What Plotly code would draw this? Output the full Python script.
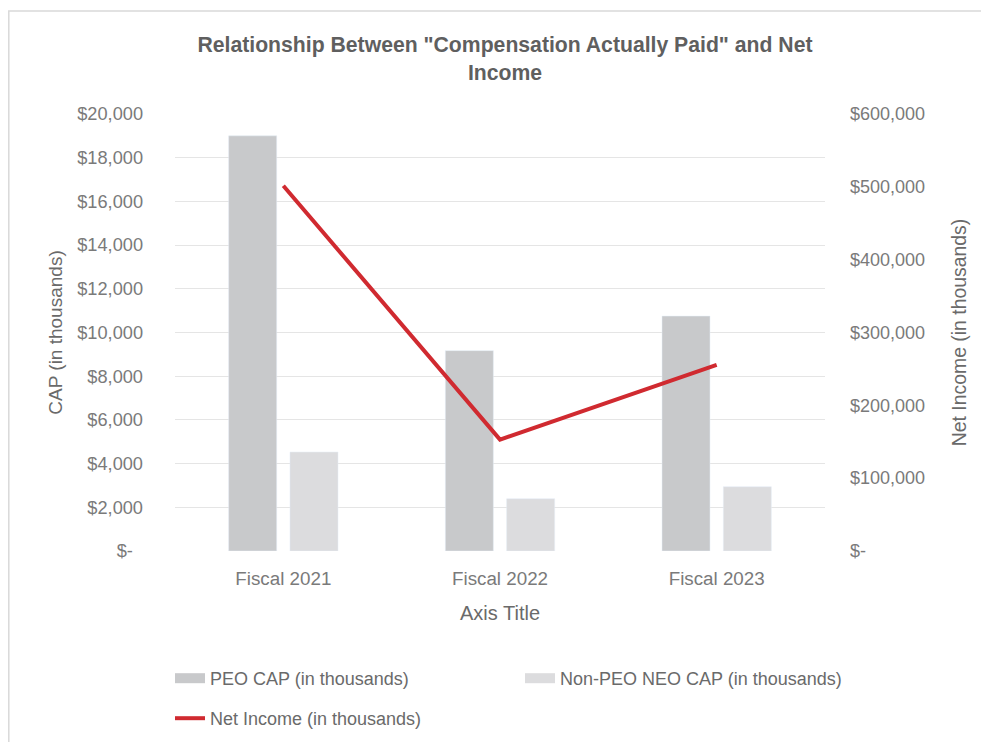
import plotly.graph_objects as go

categories = ["Fiscal 2021", "Fiscal 2022", "Fiscal 2023"]
peo_cap = [19000, 9170, 10750]
non_peo_cap = [4530, 2390, 2940]
net_income = [501500, 153000, 255500]

left_tickvals = list(range(0, 20001, 2000))
left_ticktext = ["$-\u00a0\u00a0"] + [f"${v:,}" for v in left_tickvals[1:]]
right_tickvals = list(range(0, 600001, 100000))
right_ticktext = ["$-"] + [f"${v:,}" for v in right_tickvals[1:]]

FONT = "Liberation Sans, Arial, Helvetica, sans-serif"
PEO_COLOR = "#c8c9cb"
NONPEO_COLOR = "#dcdcde"
LINE_COLOR = "#d02a30"
TICK_COLOR = "#7a7a7a"
TITLE_COLOR = "#6a6a6a"

# the page body has an 8px margin; the figure is sized so it fills the window exactly
OFF = 8
W, H = 989 - OFF, 742 - OFF
PL, PR, PT, PB = 175, 825, 114, 551  # plot area in window pixels


def px_x(x):
    return (x - PL) / (PR - PL)


def px_y(y):
    return (PB - y) / (PB - PT)


fig = go.Figure()
fig.add_trace(go.Bar(x=categories, y=peo_cap, name="PEO CAP (in thousands)",
                     marker_color=PEO_COLOR, showlegend=False))
fig.add_trace(go.Bar(x=categories, y=non_peo_cap, name="Non-PEO NEO CAP (in thousands)",
                     marker_color=NONPEO_COLOR, showlegend=False))
fig.add_trace(go.Scatter(x=categories, y=net_income, name="Net Income (in thousands)",
                         mode="lines", line=dict(color=LINE_COLOR, width=4),
                         yaxis="y2", legend="legend2"))
# legend entries for the bar series (wide swatches)
fig.add_trace(go.Scatter(x=[None], y=[None], name="PEO CAP (in thousands)", mode="lines",
                         line=dict(color=PEO_COLOR, width=14), legend="legend"))
fig.add_trace(go.Scatter(x=[None], y=[None], name="Non-PEO NEO CAP (in thousands)", mode="lines",
                         line=dict(color=NONPEO_COLOR, width=14), legend="legend"))

fig.update_layout(
    width=W, height=H,
    margin=dict(l=PL - OFF, r=W - (PR - OFF), t=PT - OFF, b=H - (PB - OFF), autoexpand=False),
    paper_bgcolor="white", plot_bgcolor="white",
    font=dict(family=FONT, color=TICK_COLOR),
    barmode="group", bargap=0.434, bargroupgap=0.217,
    title=dict(text='Relationship Between "Compensation Actually Paid" and Net<br>Income',
               x=(505 - OFF) / W, xref="container", xanchor="center",
               y=1 - (52 - OFF) / H, yref="container", yanchor="middle",
               font=dict(family=FONT, size=21.2, color="#5f5f5f", weight="bold")),
    xaxis=dict(showgrid=False, zeroline=False, showline=False, ticks="",
               tickfont=dict(size=18.8, color=TICK_COLOR), ticklabelstandoff=14,
               title=dict(text="Axis Title", font=dict(size=20, color=TITLE_COLOR), standoff=18)),
    yaxis=dict(range=[0, 20000], tickvals=left_tickvals, ticktext=left_ticktext,
               showgrid=True, gridcolor="#e5e5e5", gridwidth=1.3,
               zeroline=False, showline=False, ticks="", ticklabelstandoff=31,
               tickfont=dict(size=18.2, color=TICK_COLOR),
               title=dict(text="CAP (in thousands)", font=dict(size=19, color=TITLE_COLOR), standoff=9)),
    yaxis2=dict(range=[0, 600000], tickvals=right_tickvals, ticktext=right_ticktext,
                overlaying="y", side="right", showgrid=False, zeroline=False, showline=False,
                ticks="", ticklabelstandoff=24,
                tickfont=dict(size=18, color=TICK_COLOR),
                title=dict(text="Net Income (in thousands)", font=dict(size=19.4, color=TITLE_COLOR), standoff=28)),
    legend=dict(orientation="h", x=px_x(170), xanchor="left", y=px_y(660), yanchor="top",
                entrywidth=305, font=dict(size=18, color=TITLE_COLOR), bgcolor="rgba(0,0,0,0)"),
    legend2=dict(orientation="h", x=px_x(170), xanchor="left", y=px_y(700), yanchor="top",
                 font=dict(size=18, color=TITLE_COLOR), bgcolor="rgba(0,0,0,0)"),
    shapes=[dict(type="rect", xref="paper", yref="paper",
                 x0=px_x(8.8), x1=px_x(1000), y0=px_y(760), y1=px_y(11),
                 line=dict(color="#d9d9d9", width=1.5), fillcolor="rgba(0,0,0,0)", layer="below")],
)

fig.write_html("out.html")
